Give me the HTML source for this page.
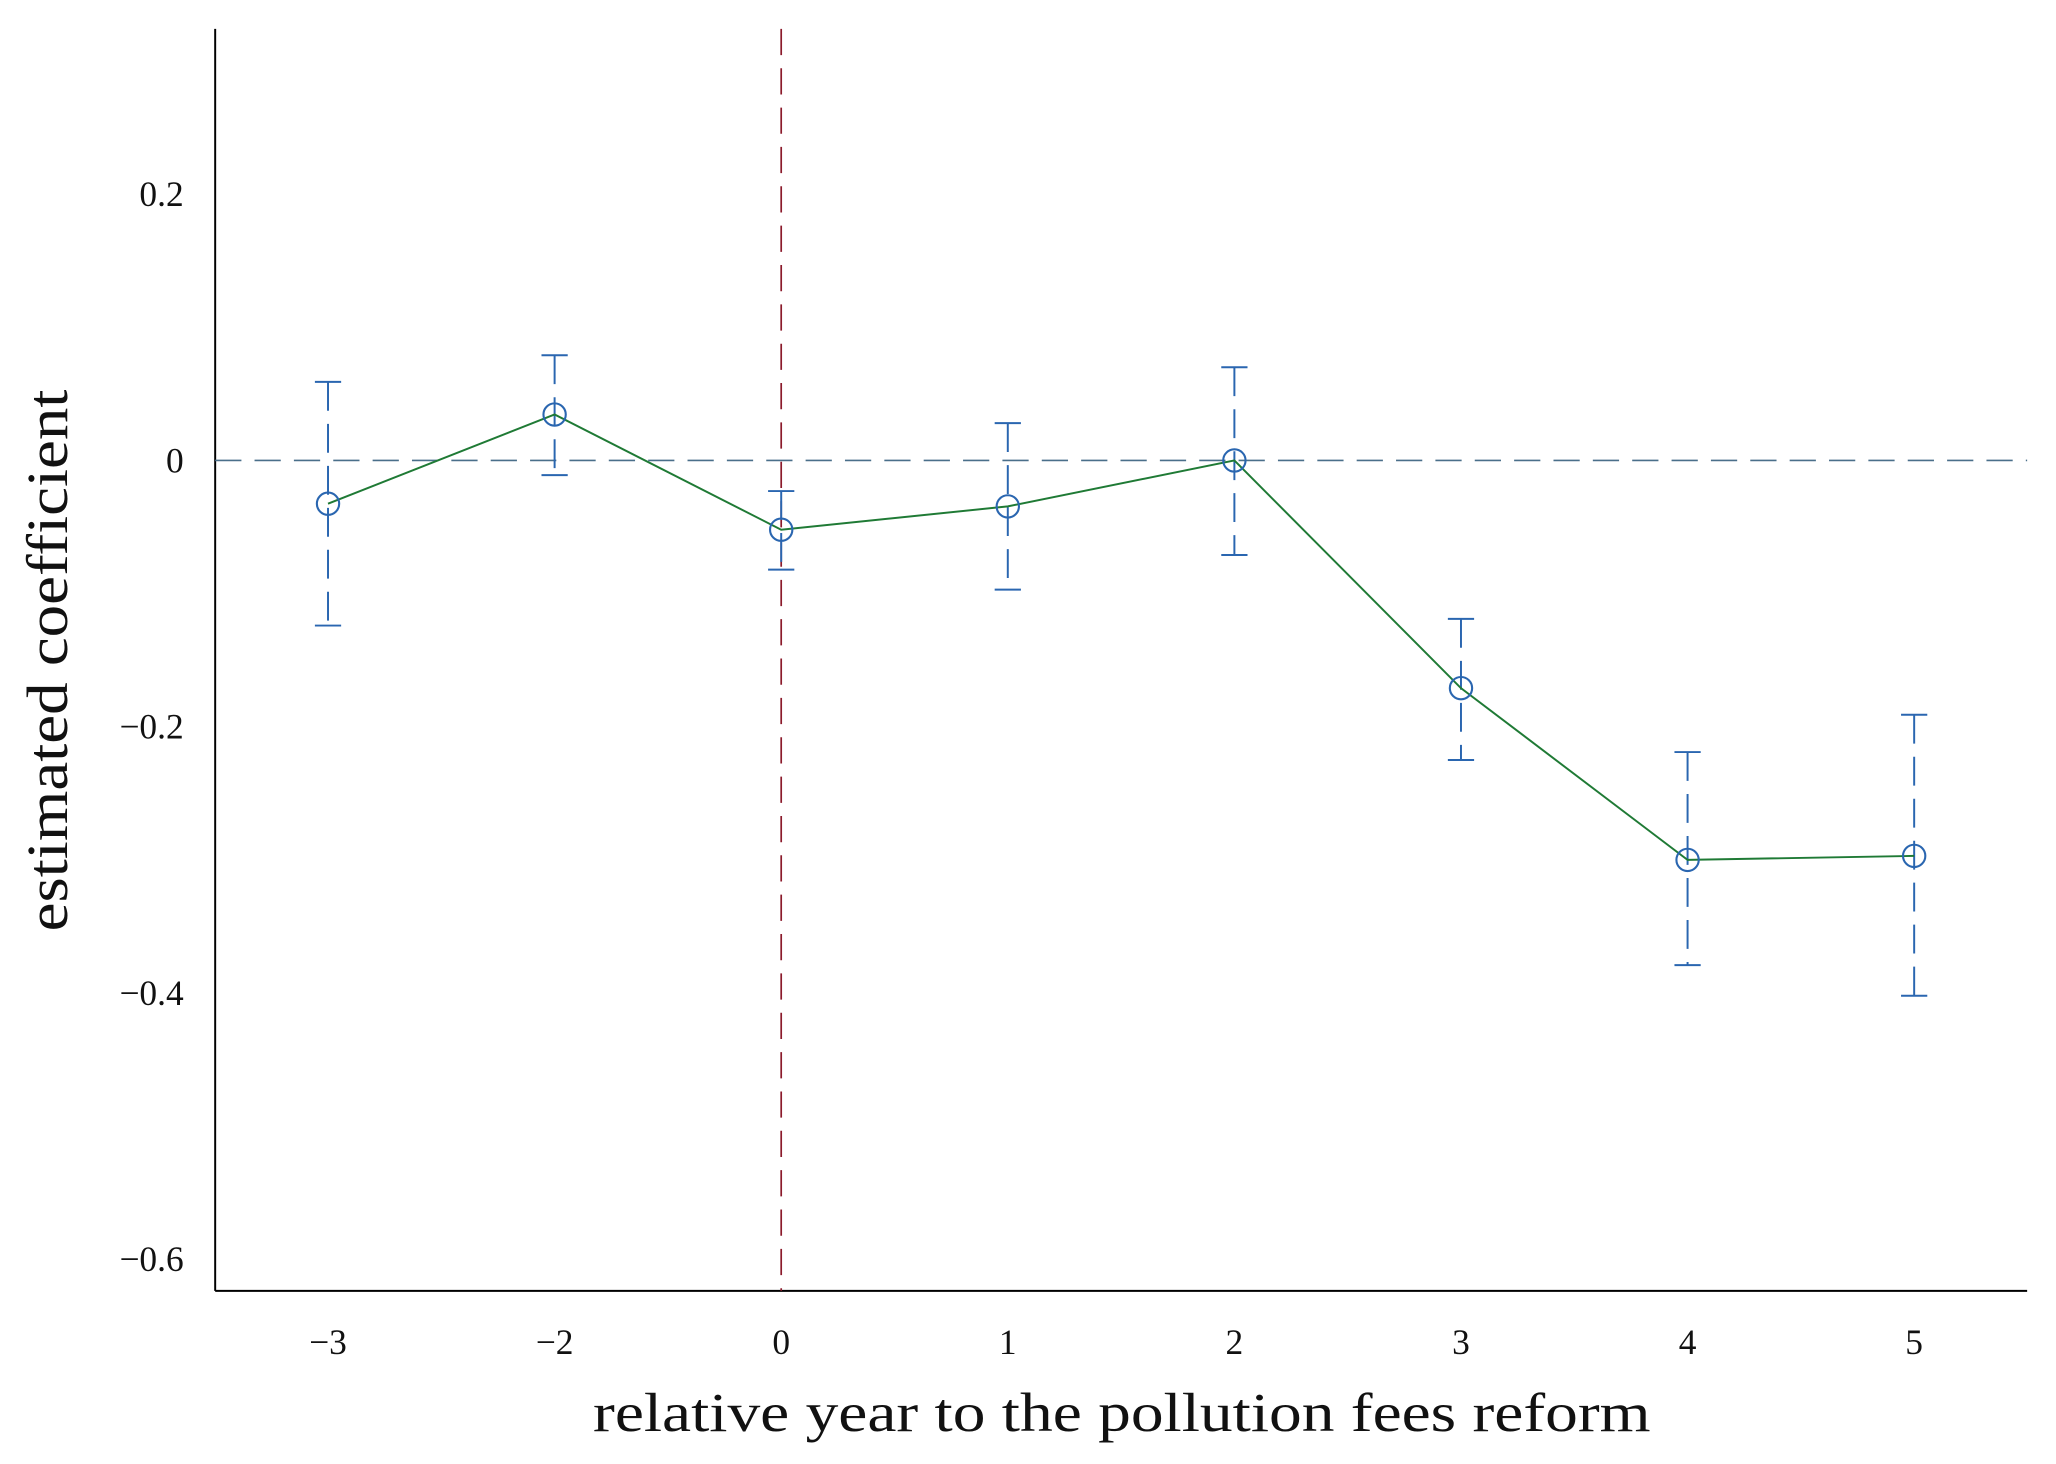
<!DOCTYPE html>
<html><head><meta charset="utf-8"><style>
html,body{margin:0;padding:0;background:#fff;}
svg{display:block;}
text{font-family:"Liberation Serif",serif;fill:#111;}
</style></head><body>
<svg id="chart" width="2056" height="1464" viewBox="0 0 1567 1116" preserveAspectRatio="none" xmlns="http://www.w3.org/2000/svg">
<g id="axes"></g>
<g id="marks"></g>
</svg>
<script>
const categories = ["-3","-2","0","1","2","3","4","5"];
const coefs = [-0.0325, 0.0345, -0.052, -0.0345, 0.0, -0.171, -0.300, -0.297];
const upper = [0.059, 0.079, -0.023, 0.028, 0.070, -0.119, -0.219, -0.191];
const lower = [-0.124, -0.011, -0.082, -0.097, -0.071, -0.225, -0.379, -0.402];
const yTicks = [0.2, 0, -0.2, -0.4, -0.6];
const yTickLabels = ["0.2","0","\u22120.2","\u22120.4","\u22120.6"];
const xTickLabels = ["\u22123","\u22122","0","1","2","3","4","5"];
const reformCategory = "0";

const NS = "http://www.w3.org/2000/svg";
const L = 164, R = 1545, T = 22, B = 984;
function xs(i){ return 250 + i * 172.7; }
function ys(v){ return 351 - v * 1015; }
function mk(tag, attrs, parent){
  const e = document.createElementNS(NS, tag);
  for (const k in attrs) e.setAttribute(k, attrs[k]);
  parent.appendChild(e);
  return e;
}
const axes = document.getElementById('axes');
const marks = document.getElementById('marks');

let a = mk('line', {x1:L, y1:T, x2:L, y2:B, stroke:'#000', 'stroke-width':1.5}, axes);


a = mk('line', {x1:L, y1:B, x2:R, y2:B, stroke:'#000', 'stroke-width':1.5}, axes);



yTicks.forEach((v, i) => {
  const t = mk('text', {x:140, y:ys(v)+9, 'text-anchor':'end', 'font-size':27}, axes);
  t.textContent = yTickLabels[i];
  
  
});
categories.forEach((c, i) => {
  const t = mk('text', {x:xs(i), y:1032, 'text-anchor':'middle', 'font-size':27}, axes);
  t.textContent = xTickLabels[i];
  
  
});
let t = mk('text', {x:452, y:1091, 'font-size':42, textLength:806, lengthAdjust:'spacingAndGlyphs'}, axes);
t.textContent = 'relative year to the pollution fees reform';


t = mk('text', {x:0, y:0, 'font-size':44, textLength:413, lengthAdjust:'spacingAndGlyphs', transform:'translate(51,710) rotate(-90)'}, axes);
t.textContent = 'estimated coefficient';



let z = mk('line', {x1:L, y1:ys(0), x2:R, y2:ys(0), stroke:'#4a6f8a', 'stroke-width':1.3, 'stroke-dasharray':'20 10'}, marks);


const ri = categories.indexOf(reformCategory);
z = mk('line', {x1:xs(ri), y1:T, x2:xs(ri), y2:B, stroke:'#8b1a2b', 'stroke-width':1.3, 'stroke-dasharray':'20 10'}, marks);



const blue = '#2a66b0';
categories.forEach((c, i) => {
  const g = mk('g', {}, marks);
  
  
  mk('line', {x1:xs(i), y1:ys(upper[i]), x2:xs(i), y2:ys(lower[i]), stroke:blue, 'stroke-width':1.5, 'stroke-dasharray':'22 10'}, g);
  mk('line', {x1:xs(i)-10, y1:ys(upper[i]), x2:xs(i)+10, y2:ys(upper[i]), stroke:blue, 'stroke-width':1.5}, g);
  mk('line', {x1:xs(i)-10, y1:ys(lower[i]), x2:xs(i)+10, y2:ys(lower[i]), stroke:blue, 'stroke-width':1.5}, g);
});
const pts = coefs.map((v, i) => xs(i) + ',' + ys(v)).join(' ');
const pl = mk('polyline', {points:pts, fill:'none', stroke:'#1f7a35', 'stroke-width':1.5}, marks);


coefs.forEach((v, i) => {
  const c = mk('circle', {cx:xs(i), cy:ys(v), r:8.5, fill:'none', stroke:blue, 'stroke-width':1.6}, marks);
  
  
});
</script>
</body></html>
